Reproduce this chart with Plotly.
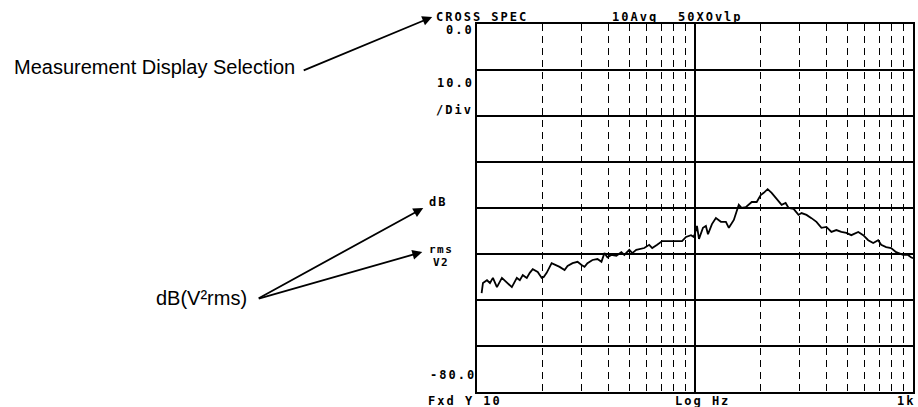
import plotly.graph_objects as go

# ---- data ----
freq_hz = [10.5, 10.65, 11.11, 11.47, 11.83, 12.34, 13.01, 13.71, 14.45, 15.23,
           15.72, 16.22, 16.92, 17.46, 18.02, 18.99, 19.81, 20.23, 20.87, 22.0,
           23.2, 23.93, 25.22, 26.03, 27.44, 28.93, 30.17, 31.13, 32.12, 33.86,
           35.69, 37.23, 38.42, 39.65, 41.35, 43.58, 45.94, 47.41, 49.96, 51.57,
           53.79, 56.69, 58.51, 61.66, 63.64, 67.07, 70.69, 76.07, 81.9, 87.22,
           90.96, 95.87, 98.9, 102.1, 104.3, 108.8, 112.2, 114.7, 119.6, 124.7,
           131.5, 138.6, 143.0, 150.7, 158.8, 163.9, 171.0, 182.1, 191.9, 200.2,
           206.6, 215.4, 224.7, 234.4, 241.9, 249.7, 260.4, 268.7, 283.3, 298.5,
           308.1, 324.7, 342.2, 360.7, 380.2, 400.6, 422.3, 445.1, 469.1, 494.5,
           521.2, 561.0, 591.3, 623.2, 656.9, 692.4, 714.5, 753.0, 793.6, 836.6,
           900.3, 949.0, 979.3, 1000]
cross_spec_db = [-58.5, -56.3, -55.7, -56.3, -55.2, -57.2, -55.2, -56.1, -57.2, -55.2,
                 -55.7, -54.6, -55.2, -54.1, -53.3, -53.9, -55.2, -55.0, -54.1, -52.0,
                 -52.4, -52.8, -53.5, -52.6, -52.0, -51.7, -52.4, -52.8, -52.0, -51.3,
                 -51.1, -51.7, -49.8, -50.7, -50.2, -50.4, -49.6, -50.2, -49.1, -49.8,
                 -49.1, -48.9, -48.7, -48.0, -48.7, -48.0, -47.2, -47.2, -47.2, -47.2,
                 -46.3, -45.9, -46.3, -43.9, -46.7, -44.3, -43.9, -45.7, -43.5, -42.2,
                 -43.0, -43.0, -44.3, -42.6, -39.3, -40.0, -39.8, -38.7, -38.7, -37.2,
                 -36.7, -35.9, -36.7, -37.8, -38.7, -39.3, -38.9, -40.0, -40.2, -41.5,
                 -41.1, -41.5, -42.2, -43.0, -44.3, -44.1, -45.2, -44.8, -45.2, -45.4,
                 -45.9, -45.2, -45.9, -47.0, -47.6, -47.0, -48.0, -48.5, -48.7, -49.6,
                 -50.2, -50.2, -50.7, -50.9]

x_range_hz = [10, 1000]
y_range_db = [-80, 0]
y_step_db = 10
decade_lines_hz = [100]
minor_lines_hz = [20, 30, 40, 50, 60, 70, 80, 90, 200, 300, 400, 500, 600, 700, 800, 900]

# ---- layout geometry (pixels) ----
W, H = 918, 407
L, R, T, B = 477, 3, 24, 15
PW, PH = W - L - R, H - T - B


def px(x):
    return (x - L) / PW


def py(y):
    return (H - B - y) / PH


MONO = "DejaVu Sans Mono"
SANS = "Liberation Sans"


def mono(s, sp):
    return '<span style="letter-spacing:%spx">' % sp + s + '</span>'


fig = go.Figure()
fig.add_trace(go.Scatter(x=freq_hz, y=cross_spec_db, mode="lines",
                         line=dict(color="black", width=1.8),
                         hoverinfo="skip", showlegend=False))

fig.update_layout(
    width=W, height=H,
    margin=dict(l=L, r=R, t=T, b=B, pad=0),
    paper_bgcolor="white", plot_bgcolor="white",
    showlegend=False,
    xaxis=dict(type="log", range=[1, 3], tickmode="array", tickvals=decade_lines_hz,
               showticklabels=False, ticks="", showgrid=True, gridcolor="black",
               gridwidth=1.5, zeroline=False, showline=True, linecolor="black",
               linewidth=2, mirror=True,
               minor=dict(tickmode="array", tickvals=minor_lines_hz, showgrid=True,
                          gridcolor="black", gridwidth=1.4, griddash="7px,5px", ticks="")),
    yaxis=dict(range=y_range_db, dtick=y_step_db, tick0=0, showticklabels=False,
               ticks="", showgrid=True, gridcolor="black", gridwidth=1.5,
               zeroline=False, showline=True, linecolor="black", linewidth=2,
               mirror=True),
)

ann = []


def label(text, x, y, anchor="left", font=MONO, size=12, sp=2, weight="bold"):
    ann.append(dict(text=mono(text, sp) if sp else text, x=px(x), y=py(y),
                    xref="paper", yref="paper", xanchor=anchor, yanchor="middle",
                    showarrow=False,
                    font=dict(family=font, size=size, color="black", weight=weight)))


label("CROSS SPEC", 434, 17)
label("10Avg", 611, 17)
label("50XOvlp", 677, 17)
label("0.0", 476, 30, "right")
label("10.0", 476, 83, "right")
label("/Div", 434, 110)
label("dB", 427, 202)
label("rms", 427, 249, size=11, sp=1.5)
label("V2", 431, 262, size=11, sp=1.5)
label("-80.0", 478, 375, "right")
label("Fxd Y 10", 426, 401)
label("Log Hz", 674, 401)
label("1k", 919, 401, "right")

label("Measurement Display Selection", 153, 67, "center", SANS, 20, 0, "normal")
label("dB(V²rms)", 200, 298, "center", SANS, 20, 0, "normal")


def arrow(tail, head):
    ann.append(dict(text="", x=px(head[0]), y=py(head[1]), xref="paper", yref="paper",
                    ax=tail[0] - head[0], ay=tail[1] - head[1], showarrow=True,
                    arrowhead=2, arrowsize=1.1, arrowwidth=1.8, arrowcolor="black",
                    standoff=0, startstandoff=0))


arrow((302, 71), (432, 17))
arrow((257, 299), (423, 208))
arrow((257, 299), (422, 252))

fig.update_layout(annotations=ann)
fig.write_html("out.html")
